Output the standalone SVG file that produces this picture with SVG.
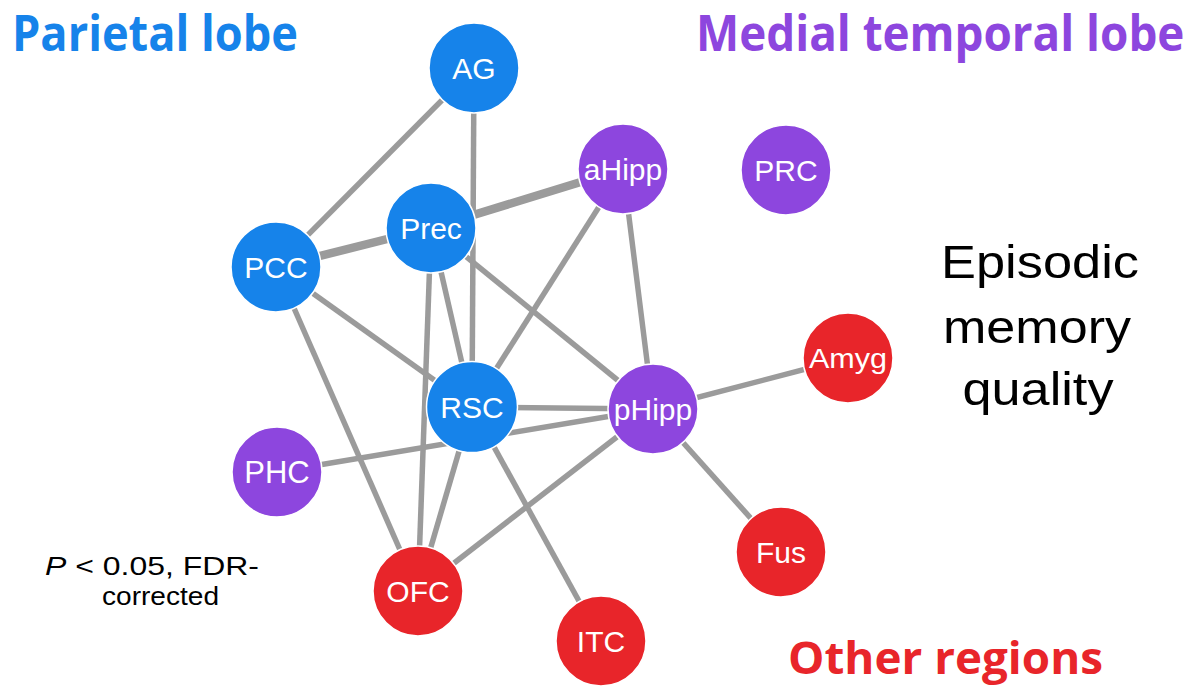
<svg xmlns="http://www.w3.org/2000/svg" width="1203" height="686" viewBox="0 0 1203 686">
<style>
.e{stroke:#9b9b9b;stroke-width:5.5;fill:none}
.t{stroke-width:8.5}
.n{stroke:#fff;stroke-width:1.5}
.b{fill:#1683ea}
.p{fill:#8d46de}
.r{fill:#e8252a}
.l{font-family:"Liberation Sans",Arial,sans-serif;font-size:30px;fill:#fff;text-anchor:middle}
.h{font-family:"Open Sans","Liberation Sans",sans-serif;font-weight:bold;font-size:50px}
.k{font-family:"Liberation Sans",Arial,sans-serif;fill:#000}
</style>
<rect width="1203" height="686" fill="#fff"/>
<g id="titles">
<text class="h" x="12" y="51" fill="#1683ea" textLength="286" lengthAdjust="spacingAndGlyphs">Parietal lobe</text>
<text class="h" transform="translate(696,51) scale(0.88,1)" x="0" y="0" fill="#8d46de" textLength="555" lengthAdjust="spacingAndGlyphs">Medial temporal lobe</text>
<text class="h" x="788" y="674" fill="#e8252a" style="font-size:44px" textLength="315" lengthAdjust="spacingAndGlyphs">Other regions</text>
</g>
<g id="connectors">
<line class="e" x1="474" y1="68" x2="276" y2="267"/>
<line class="e" x1="474" y1="68" x2="472" y2="407"/>
<line class="e t" x1="276" y1="267" x2="431" y2="228"/>
<line class="e t" x1="431" y1="228" x2="623" y2="169"/>
<line class="e" x1="623" y1="169" x2="472" y2="407"/>
<line class="e" x1="623" y1="169" x2="653" y2="409"/>
<line class="e" x1="431" y1="228" x2="653" y2="409"/>
<line class="e" x1="431" y1="228" x2="472" y2="407"/>
<line class="e" x1="431" y1="228" x2="418" y2="591"/>
<line class="e" x1="276" y1="267" x2="472" y2="407"/>
<line class="e" x1="276" y1="267" x2="418" y2="591"/>
<line class="e" x1="472" y1="407" x2="653" y2="409"/>
<line class="e" x1="277" y1="472" x2="653" y2="409"/>
<line class="e" x1="472" y1="407" x2="418" y2="591"/>
<line class="e" x1="472" y1="407" x2="601" y2="641"/>
<line class="e" x1="653" y1="409" x2="418" y2="591"/>
<line class="e" x1="653" y1="409" x2="848" y2="358"/>
<line class="e" x1="653" y1="409" x2="781" y2="552"/>
</g>
<g id="AG"><circle class="n b" cx="474" cy="68" r="45"/><text class="l" x="474" y="79">AG</text></g>
<g id="aHipp"><circle class="n p" cx="623" cy="169" r="45"/><text class="l" x="623" y="180">aHipp</text></g>
<g id="PRC"><circle class="n p" cx="786" cy="170" r="45"/><text class="l" x="786" y="181">PRC</text></g>
<g id="Prec"><circle class="n b" cx="431" cy="228" r="45"/><text class="l" x="431" y="239">Prec</text></g>
<g id="PCC"><circle class="n b" cx="276" cy="267" r="45"/><text class="l" x="276" y="278">PCC</text></g>
<g id="RSC"><circle class="n b" cx="472" cy="407" r="45.5"/><text class="l" x="472" y="418">RSC</text></g>
<g id="pHipp"><circle class="n p" cx="653" cy="409" r="45"/><text class="l" x="653" y="420">pHipp</text></g>
<g id="PHC"><circle class="n p" cx="277" cy="472" r="45"/><text class="l" x="277" y="483" style="font-size:31px">PHC</text></g>
<g id="Amyg"><circle class="n r" cx="848" cy="358" r="45"/><text class="l" x="848" y="368" style="font-size:27px" textLength="78" lengthAdjust="spacingAndGlyphs">Amyg</text></g>
<g id="Fus"><circle class="n r" cx="781" cy="552" r="45"/><text class="l" x="781" y="563">Fus</text></g>
<g id="OFC"><circle class="n r" cx="418" cy="591" r="45"/><text class="l" x="418" y="602">OFC</text></g>
<g id="ITC"><circle class="n r" cx="601" cy="641" r="45"/><text class="l" x="601" y="652">ITC</text></g>
<g id="labels">
<text class="k" x="1040" y="278" font-size="47" text-anchor="middle" textLength="198" lengthAdjust="spacingAndGlyphs">Episodic</text>
<text class="k" x="1037" y="343" font-size="47" text-anchor="middle" textLength="188" lengthAdjust="spacingAndGlyphs">memory</text>
<text class="k" x="1038" y="405" font-size="47" text-anchor="middle" textLength="151" lengthAdjust="spacingAndGlyphs">quality</text>
<text class="k" x="45" y="575" font-size="26" textLength="214" lengthAdjust="spacingAndGlyphs"><tspan font-style="italic">P</tspan> &lt; 0.05, FDR-</text>
<text class="k" x="102" y="605" font-size="26" textLength="117" lengthAdjust="spacingAndGlyphs">corrected</text>
</g>
</svg>
